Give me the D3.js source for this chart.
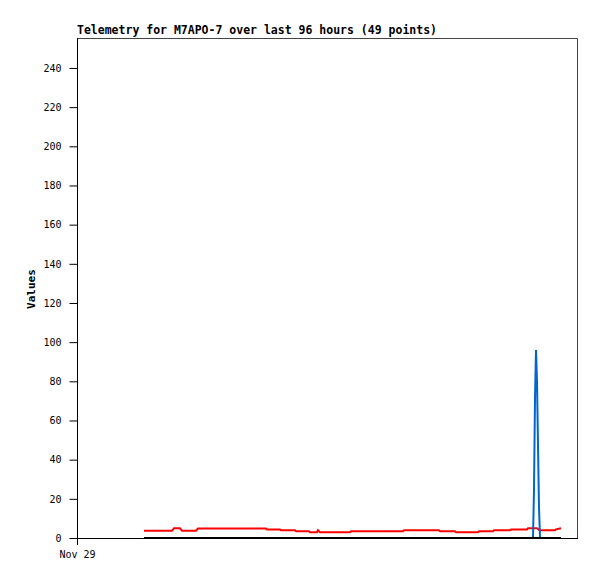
<!DOCTYPE html>
<html>
<head>
<meta charset="utf-8">
<script src="https://cdn.jsdelivr.net/npm/d3@7"></script>
<style>
  body { margin: 0; background: #fff; }
  text { font-family: "DejaVu Sans Mono", monospace; }
</style>
</head>
<body>
<svg id="chart" width="597" height="579"></svg>
<script>
// hours since Nov 29 00:00
var hours = [12.86, 18.24, 18.62, 19.78, 20.16, 22.85, 23.23, 28.42, 32.26, 36.29,
             36.48, 38.98, 39.17, 41.86, 42.05, 44.54, 44.74, 46.08, 46.27, 46.66,
             52.42, 52.61, 62.59, 62.78, 65.86, 69.50, 69.70, 72.58, 72.77, 76.99,
             77.18, 79.87, 80.06, 83.14, 83.33, 86.40, 86.59, 87.55, 87.74, 87.94,
             88.13, 88.32, 88.51, 88.70, 88.90, 89.09, 91.78, 91.97, 92.93];

var redValues = [3.7, 3.7, 5.0, 5.0, 3.7, 3.7, 4.9, 4.9, 4.9, 4.9,
                 4.4, 4.4, 4.0, 4.0, 3.5, 3.5, 3.0, 3.0, 4.0, 3.0,
                 3.0, 3.5, 3.5, 4.0, 4.0, 4.0, 3.5, 3.5, 3.0, 3.0,
                 3.5, 3.5, 4.0, 4.0, 4.4, 4.4, 5.0, 5.0, 5.0, 5.0,
                 5.0, 5.0, 4.6, 4.2, 4.0, 4.0, 4.0, 4.4, 5.0];

var blueValues = [0, 0, 0, 0, 0, 0, 0, 0, 0, 0,
                  0, 0, 0, 0, 0, 0, 0, 0, 0, 0,
                  0, 0, 0, 0, 0, 0, 0, 0, 0, 0,
                  0, 0, 0, 0, 0, 0, 0, 0, 24, 72,
                  96, 80, 48, 16, 0, 0, 0, 0, 0];

var blackValues = hours.map(function() { return 0; });

var yTicks = [0, 20, 40, 60, 80, 100, 120, 140, 160, 180, 200, 220, 240];
var xTickLabels = ["Nov 29"];
var xTickHours = [0];

var svg = d3.select("#chart");
var mLeft = 77, mRight = 577, mTop = 38, mBottom = 538;

var x = d3.scaleLinear().domain([0, 96]).range([mLeft, mRight]);
var y = d3.scaleLinear().domain([0, 255.3]).range([mBottom, mTop]);

// frame (top + right)
svg.append("path")
   .attr("d", "M" + mLeft + "," + (mTop + 0.5) + "H" + (mRight + 0.5) + "V" + mBottom)
   .attr("fill", "none")
   .attr("stroke", "#444");

// lines
function series(vals, color) {
  var line = d3.line()
               .x(function(d, i) { return x(hours[i]); })
               .y(function(d) { return y(d); });
  svg.append("path")
     .datum(vals)
     .attr("fill", "none")
     .attr("stroke", color)
     .attr("stroke-width", 2)
     .attr("d", line);
}
series(redValues, "#ff0000");
series(blueValues, "#0066cc");
series(blackValues, "#000000");

// axes
var yAxis = d3.axisLeft(y).tickValues(yTicks).tickSize(8).tickPadding(8);
var gy = svg.append("g")
            .attr("transform", "translate(" + (mLeft + 0.5) + ",0)")
            .call(yAxis);
gy.select(".domain").attr("d", "M0," + mTop + "V" + (mBottom + 7));
gy.selectAll("text").attr("font-size", 10).attr("font-family", "DejaVu Sans Mono").attr("fill", "#000");

var xAxis = d3.axisBottom(x).tickValues(xTickHours)
              .tickFormat(function(d, i) { return xTickLabels[i]; })
              .tickSize(0).tickPadding(12);
var gx = svg.append("g")
            .attr("transform", "translate(0," + (mBottom + 0.5) + ")")
            .call(xAxis);
gx.select(".domain").attr("d", "M" + mLeft + ",0H" + (mRight + 1));
gx.selectAll("text").attr("font-size", 10).attr("font-family", "DejaVu Sans Mono").attr("fill", "#000");

// title + y label
svg.append("text")
   .attr("x", mLeft).attr("y", 34)
   .attr("font-size", 11.5).attr("font-weight", "bold")
   .text("Telemetry for M7APO-7 over last 96 hours (49 points)");

svg.append("text")
   .attr("transform", "translate(35,289) rotate(-90)")
   .attr("text-anchor", "middle")
   .attr("font-size", 11).attr("font-weight", "bold")
   .text("Values");
</script>
</body>
</html>
